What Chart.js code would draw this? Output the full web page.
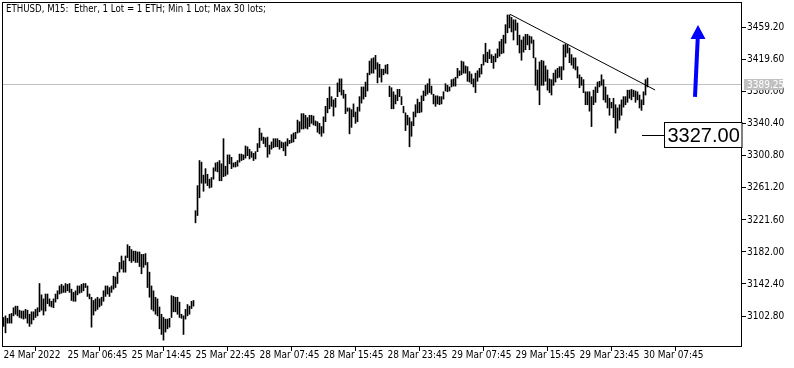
<!DOCTYPE html>
<html>
<head>
<meta charset="utf-8">
<title>ETHUSD M15</title>
<script src="https://cdn.jsdelivr.net/npm/chart.js@4.4.1/dist/chart.umd.min.js"></script>
<style>
  html, body { margin: 0; padding: 0; background: #fff; }
  #wrap { width: 794px; height: 368px; }
</style>
</head>
<body>
<div id="wrap"><canvas id="chart" width="794" height="368"></canvas></div>
<script>
const symbolTitle = 'ETHUSD, M15:  Ether, 1 Lot = 1 ETH; Min 1 Lot; Max 30 lots;';

// one tick label every 32 bars (8 hours of M15)
const xTickLabels = ['24 Mar 2022', '25 Mar 06:45', '25 Mar 14:45', '25 Mar 22:45', '28 Mar 07:45',
  '28 Mar 15:45', '28 Mar 23:45', '29 Mar 07:45', '29 Mar 15:45', '29 Mar 23:45', '30 Mar 07:45'];
const barsPerTick = 32;

const yTickValues = [3459.20, 3419.60, 3380.00, 3340.40, 3300.80, 3261.20, 3221.60, 3182.00, 3142.40, 3102.80];

// bar highs / lows (24 Mar 22:45 .. 30 Mar ~08:45)
const highs = [
  3101, 3103, 3100, 3105, 3106, 3113, 3115, 3115, 3110, 3109,
  3109, 3111, 3110, 3105, 3108, 3108, 3111, 3113, 3143, 3129,
  3124, 3130, 3130, 3124, 3121, 3124, 3130, 3134, 3140, 3142,
  3140, 3143, 3142, 3143, 3136, 3132, 3134, 3140, 3140, 3142,
  3143, 3143, 3140, 3130, 3126, 3122, 3124, 3126, 3124, 3126,
  3134, 3140, 3140, 3138, 3140, 3152, 3151, 3157, 3169, 3177,
  3171, 3177, 3191, 3189, 3185, 3183, 3183, 3182, 3182, 3179,
  3179, 3180, 3169, 3157, 3140, 3134, 3126, 3124, 3114, 3105,
  3101, 3099, 3099, 3100, 3128, 3127, 3126, 3126, 3120, 3105,
  3103, 3111, 3117, 3115, 3121, 3122,
  // after the weekend gap
  3233, 3264, 3295, 3293, 3277, 3285, 3278, 3272, 3274, 3286,
  3292, 3293, 3295, 3291, 3322, 3288, 3302, 3302, 3299, 3292,
  3293, 3295, 3303, 3303, 3302, 3313, 3312, 3309, 3306, 3304,
  3306, 3316, 3335, 3329, 3324, 3323, 3324, 3314, 3318, 3322,
  3322, 3322, 3320, 3318, 3317, 3318, 3322, 3320, 3327, 3329,
  3330, 3345, 3343, 3353, 3353, 3351, 3348, 3351, 3351, 3350,
  3344, 3343, 3341, 3337, 3349, 3362, 3372, 3386, 3374, 3370,
  3372, 3391, 3396, 3396, 3382, 3377, 3360, 3360, 3358, 3365,
  3355, 3361, 3374, 3386, 3386, 3392, 3403, 3418, 3421, 3422,
  3425, 3416, 3414, 3408, 3408, 3413, 3414,
  3387, 3385, 3380, 3376, 3383, 3383, 3374, 3362, 3354, 3351,
  3348, 3343, 3355, 3364, 3371, 3367, 3375, 3381, 3388, 3390,
  3396, 3387, 3377, 3375, 3375, 3374, 3374, 3380, 3390, 3388,
  3386, 3395, 3396, 3398, 3409, 3406, 3418, 3417, 3412, 3411,
  3405, 3402, 3396, 3403, 3406, 3409, 3414, 3426, 3440, 3429,
  3432, 3426, 3424, 3427, 3433, 3442, 3445, 3450, 3463, 3475,
  3475, 3472, 3469, 3469, 3465, 3450, 3444, 3448, 3451, 3451,
  3449, 3448, 3444, 3422, 3407, 3417, 3419, 3418, 3412, 3407,
  3396, 3395, 3403, 3407, 3409, 3411, 3411, 3438, 3439, 3438,
  3434, 3426, 3422, 3422, 3411, 3401, 3398, 3395, 3380, 3380,
  3380, 3374, 3382, 3386, 3392, 3393, 3401, 3395, 3386, 3376,
  3372, 3367, 3372, 3364, 3360, 3364, 3370, 3374, 3374, 3382,
  3382, 3383, 3382, 3381, 3380, 3376, 3370, 3380, 3395, 3397
];
const lows = [
  3090, 3082, 3094, 3094, 3094, 3103, 3105, 3103, 3101, 3100,
  3099, 3100, 3094, 3090, 3093, 3098, 3101, 3103, 3108, 3110,
  3104, 3109, 3118, 3115, 3114, 3113, 3120, 3124, 3130, 3131,
  3132, 3132, 3134, 3132, 3122, 3121, 3121, 3129, 3131, 3132,
  3134, 3138, 3127, 3124, 3089, 3104, 3109, 3111, 3114, 3116,
  3121, 3127, 3130, 3127, 3132, 3136, 3138, 3143, 3157, 3161,
  3157, 3157, 3175, 3171, 3169, 3171, 3169, 3169, 3164, 3155,
  3163, 3166, 3138, 3126, 3111, 3109, 3105, 3103, 3087, 3080,
  3073, 3083, 3087, 3089, 3101, 3108, 3108, 3105, 3101, 3100,
  3080, 3099, 3103, 3105, 3112, 3115,
  3218, 3227, 3249, 3267, 3257, 3267, 3264, 3261, 3262, 3272,
  3282, 3281, 3270, 3270, 3275, 3276, 3278, 3291, 3285, 3287,
  3287, 3288, 3293, 3295, 3296, 3298, 3301, 3297, 3299, 3295,
  3297, 3306, 3311, 3320, 3316, 3312, 3299, 3303, 3309, 3311,
  3312, 3312, 3309, 3311, 3307, 3301, 3313, 3316, 3317, 3318,
  3322, 3329, 3330, 3334, 3334, 3335, 3334, 3337, 3341, 3339,
  3338, 3330, 3328, 3325, 3329, 3343, 3354, 3359, 3362, 3350,
  3361, 3374, 3380, 3376, 3372, 3353, 3356, 3328, 3336, 3349,
  3341, 3343, 3356, 3366, 3371, 3374, 3381, 3401, 3403, 3403,
  3408, 3391, 3398, 3392, 3401, 3403, 3402,
  3374, 3359, 3359, 3365, 3369, 3374, 3364, 3354, 3332, 3339,
  3312, 3325, 3338, 3349, 3354, 3354, 3355, 3369, 3375, 3377,
  3379, 3377, 3365, 3362, 3365, 3364, 3365, 3371, 3381, 3380,
  3381, 3386, 3387, 3387, 3397, 3400, 3401, 3403, 3403, 3393,
  3392, 3390, 3386, 3379, 3393, 3398, 3402, 3413, 3417, 3416,
  3421, 3416, 3409, 3417, 3422, 3424, 3427, 3428, 3440, 3453,
  3459, 3454, 3444, 3456, 3438, 3428, 3419, 3429, 3432, 3438,
  3432, 3440, 3422, 3388, 3382, 3364, 3388, 3388, 3393, 3382,
  3379, 3376, 3388, 3392, 3397, 3398, 3395, 3407, 3423, 3428,
  3416, 3413, 3409, 3407, 3397, 3385, 3388, 3379, 3364, 3364,
  3356, 3337, 3364, 3367, 3379, 3386, 3388, 3370, 3367, 3360,
  3351, 3360, 3348, 3329, 3335, 3345, 3351, 3361, 3364, 3367,
  3372, 3370, 3374, 3367, 3370, 3360, 3357, 3364, 3376, 3386
];

const bidPrice = 3389.25;
const levelPrice = 3327.00;
// trend line: [bar index, price]
const trendStart = [253.3, 3475.8];
const trendEnd = [325.8, 3382.2];
// blue arrow: [bar index, price]
const arrowBase = [345.75, 3373.6];
const arrowTip = [347.25, 3462.6];

const yMin = 3064.5;
const yMax = 3491.0;

const FONT = '"Liberation Sans Narrow", "DejaVu Sans Condensed", "Liberation Sans", sans-serif';
Chart.defaults.font.family = FONT;
Chart.defaults.font.size = 10;
Chart.defaults.color = '#000';

const bars = highs.map((h, i) => ({ x: i, y: [lows[i], h] }));

const mtOverlay = {
  id: 'mtOverlay',
  beforeDatasetsDraw(chart) {
    const { ctx, chartArea: a, scales: { y } } = chart;
    const py = Math.floor(y.getPixelForValue(bidPrice)) + 0.5;
    ctx.save();
    ctx.strokeStyle = '#c0c0c0';
    ctx.lineWidth = 1;
    ctx.beginPath();
    ctx.moveTo(a.left, py);
    ctx.lineTo(a.right, py);
    ctx.stroke();
    ctx.restore();
  },
  afterDraw(chart) {
    const { ctx, chartArea: a, scales: { x, y } } = chart;
    ctx.save();

    // frame
    ctx.strokeStyle = '#000';
    ctx.lineWidth = 1;
    ctx.strokeRect(a.left + 0.5, a.top + 0.5, a.right - a.left - 1, a.bottom - a.top - 1);

    // title
    ctx.fillStyle = '#000';
    ctx.font = '9.6px ' + FONT;
    ctx.textBaseline = 'alphabetic';
    ctx.textAlign = 'left';
    ctx.fillText(symbolTitle, 6, 12);

    // current price box on the axis
    const py = Math.floor(y.getPixelForValue(bidPrice));
    ctx.font = '10px ' + FONT;
    ctx.fillStyle = '#c0c0c0';
    ctx.fillRect(a.right + 2, py - 5, 39, 11);
    ctx.fillStyle = '#fff';
    ctx.textBaseline = 'middle';
    ctx.fillText(bidPrice.toFixed(2), a.right + 5, py + 1);

    // level label
    const ly = Math.round(y.getPixelForValue(levelPrice)) + 0.5;
    const boxLeft = Math.round(x.getPixelForValue(330.25)) + 0.5;
    ctx.strokeStyle = '#000';
    ctx.beginPath();
    ctx.moveTo(Math.round(x.getPixelForValue(319)), ly);
    ctx.lineTo(boxLeft, ly);
    ctx.stroke();
    ctx.fillStyle = '#fff';
    ctx.fillRect(boxLeft, ly - 13, a.right - boxLeft, 25);
    ctx.strokeRect(boxLeft, ly - 13, a.right - boxLeft, 25);
    ctx.fillStyle = '#000';
    ctx.font = '20px "Liberation Sans", sans-serif';
    ctx.textBaseline = 'middle';
    ctx.fillText(levelPrice.toFixed(2), boxLeft + 3, ly + 1);

    // arrow
    const bx = x.getPixelForValue(arrowBase[0]), by = y.getPixelForValue(arrowBase[1]);
    const tx = x.getPixelForValue(arrowTip[0]), ty = y.getPixelForValue(arrowTip[1]);
    const headH = 14, headW = 15;
    ctx.strokeStyle = '#0000ff';
    ctx.fillStyle = '#0000ff';
    ctx.lineWidth = 4;
    ctx.beginPath();
    ctx.moveTo(bx, by);
    ctx.lineTo(tx - 0.3, ty + headH);
    ctx.stroke();
    ctx.beginPath();
    ctx.moveTo(tx, ty);
    ctx.lineTo(tx - headW / 2, ty + headH);
    ctx.lineTo(tx + headW / 2, ty + headH);
    ctx.closePath();
    ctx.fill();

    ctx.restore();
  }
};

new Chart(document.getElementById('chart'), {
  type: 'bar',
  data: {
    datasets: [
      {
        type: 'bar',
        data: bars,
        backgroundColor: '#000',
        borderWidth: 0,
        barThickness: 1
      },
      {
        type: 'line',
        data: [{ x: trendStart[0], y: trendStart[1] }, { x: trendEnd[0], y: trendEnd[1] }],
        borderColor: '#000',
        borderWidth: 1,
        pointRadius: 0,
        fill: false
      }
    ]
  },
  options: {
    responsive: false,
    animation: false,
    layout: { padding: { left: 2, top: 2, right: 0, bottom: 0 } },
    plugins: { legend: { display: false }, tooltip: { enabled: false } },
    scales: {
      x: {
        type: 'linear',
        min: -0.75,
        max: 369.25,
        offset: false,
        border: { display: false },
        grid: { drawOnChartArea: false, drawTicks: true, tickLength: 4, color: '#000' },
        ticks: {
          autoSkip: false,
          maxRotation: 0,
          minRotation: 0,
          align: 'start',
          padding: -1,
          font: { size: 10, lineHeight: 1 },
          callback: (v) => xTickLabels[Math.round(v / barsPerTick)]
        },
        afterBuildTicks: (s) => { s.ticks = xTickLabels.map((_, i) => ({ value: i * barsPerTick })); },
        afterFit: (s) => { s.height = 21; s.paddingLeft = 0; s.paddingRight = 0; }
      },
      y: {
        position: 'right',
        min: yMin,
        max: yMax,
        border: { display: false },
        grid: { drawOnChartArea: false, drawTicks: true, tickLength: 4, color: '#000' },
        ticks: {
          padding: 1,
          font: { size: 10 },
          callback: (v) => v.toFixed(2)
        },
        afterBuildTicks: (s) => { s.ticks = yTickValues.map(v => ({ value: v })); },
        afterFit: (s) => { s.width = 52; s.paddingTop = 0; s.paddingBottom = 0; }
      }
    }
  },
  plugins: [mtOverlay]
});
</script>
</body>
</html>
